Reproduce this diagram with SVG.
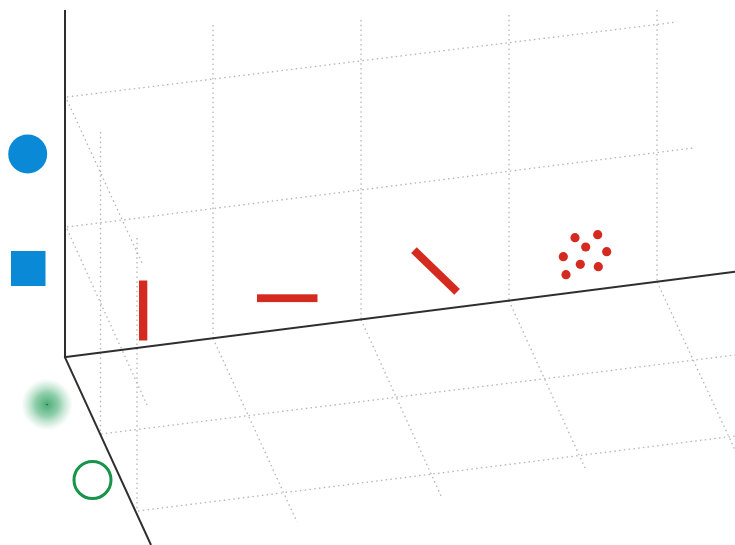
<svg xmlns="http://www.w3.org/2000/svg" width="735" height="545" viewBox="0 0 735 545">
<style>
.grid{stroke:#b4b4b4;stroke-width:1.3;stroke-dasharray:1.5 3.3;fill:none;stroke-linecap:butt}
.axis{stroke:#2e2e2e;stroke-width:2;fill:none}
.blue{fill:#0a8ad6}
.red{fill:#d42a1f}
</style>
<defs>
<radialGradient id="glow" cx="0.5" cy="0.5" r="0.5">
<stop offset="0" stop-color="#2a9c5e" stop-opacity="0.85"/>
<stop offset="0.45" stop-color="#45ad73" stop-opacity="0.6"/>
<stop offset="0.8" stop-color="#7cc79d" stop-opacity="0.25"/>
<stop offset="1" stop-color="#a5d8bb" stop-opacity="0"/>
</radialGradient>
</defs>
<rect width="735" height="545" fill="#fff"/>
<g id="grid">
<line class="grid" x1="67" y1="97" x2="677" y2="22"/>
<line class="grid" x1="67" y1="227" x2="693" y2="148"/>
<line class="grid" x1="213" y1="25" x2="213" y2="338.4"/>
<line class="grid" x1="361" y1="20" x2="361" y2="319.6"/>
<line class="grid" x1="509" y1="15" x2="509" y2="300.7"/>
<line class="grid" x1="657" y1="10" x2="657" y2="281.8"/>
<line class="grid" x1="67" y1="100" x2="142" y2="263"/>
<line class="grid" x1="67" y1="229" x2="147" y2="405"/>
<line class="grid" x1="100.5" y1="132" x2="100.5" y2="434"/>
<line class="grid" x1="137" y1="238" x2="137" y2="511"/>
<line class="grid" x1="101" y1="434" x2="735" y2="355"/>
<line class="grid" x1="138" y1="511" x2="735" y2="436"/>
<line class="grid" x1="213" y1="338.4" x2="297" y2="522"/>
<line class="grid" x1="361" y1="319.6" x2="442" y2="498"/>
<line class="grid" x1="509" y1="300.7" x2="585" y2="468"/>
<line class="grid" x1="657" y1="281.8" x2="735" y2="450"/>
</g>
<g id="axes">
<line class="axis" x1="65" y1="10" x2="65" y2="357.3"/>
<line class="axis" x1="64" y1="357.3" x2="735" y2="271.8"/>
<line class="axis" x1="65" y1="357.3" x2="151" y2="545"/>
</g>
<g id="blue-circle"><circle class="blue" cx="27.7" cy="154" r="19.5"/></g>
<g id="blue-square"><rect class="blue" x="11" y="251" width="34.5" height="35"/></g>
<g id="green-glow"><circle cx="47" cy="404.5" r="26" fill="url(#glow)"/><circle cx="47" cy="404.5" r="0.8" fill="#1c6b40"/></g>
<g id="green-ring"><circle cx="92.5" cy="480" r="18.5" fill="none" stroke="#17944a" stroke-width="3"/></g>
<g id="red-vertical"><rect class="red" x="139" y="280.5" width="8.3" height="60"/></g>
<g id="red-horizontal"><rect class="red" x="257" y="294.3" width="60.5" height="7.8"/></g>
<g id="red-diagonal"><rect class="red" x="-30" y="-4" width="60" height="8" transform="translate(435.5 271) rotate(44)"/></g>
<g id="red-dots">
<circle class="red" cx="575" cy="237.7" r="4.6"/>
<circle class="red" cx="597.7" cy="234.7" r="4.6"/>
<circle class="red" cx="585.7" cy="247" r="4.6"/>
<circle class="red" cx="606.7" cy="251.7" r="4.6"/>
<circle class="red" cx="563.3" cy="256.7" r="4.6"/>
<circle class="red" cx="580.3" cy="264.3" r="4.6"/>
<circle class="red" cx="598.3" cy="266.7" r="4.6"/>
<circle class="red" cx="566" cy="274.7" r="4.6"/>
</g>
</svg>
